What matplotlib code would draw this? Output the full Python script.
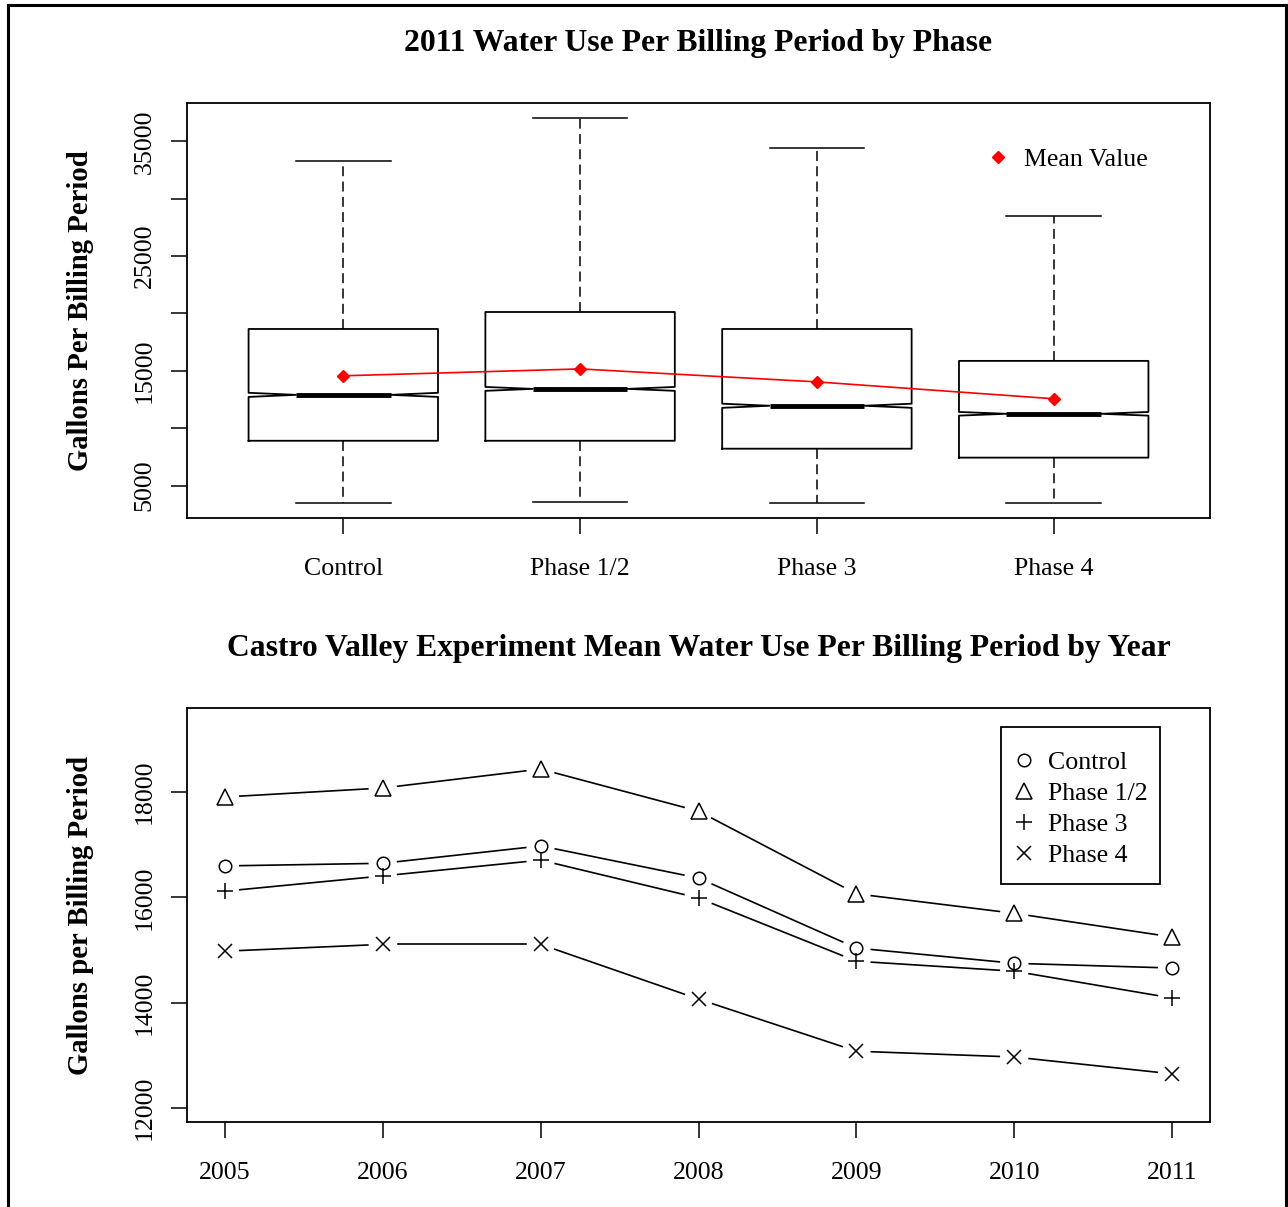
import matplotlib
matplotlib.use('Agg')
import matplotlib.pyplot as plt
from matplotlib.lines import Line2D
from matplotlib.patches import Rectangle
import numpy as np

plt.rcParams['font.family'] = ['Liberation Serif', 'DejaVu Serif']

# --- 2011 box plot summaries by phase ---
phases = ['Control', 'Phase 1/2', 'Phase 3', 'Phase 4']
whisker_low = [3520, 3540, 3530, 3520]
q1 = [8910, 8910, 8220, 7440]
medians = [12910, 13430, 11960, 11260]
q3 = [18650, 20130, 18650, 15870]
whisker_high = [33260, 37000, 34390, 28480]
notch_half = [180, 170, 180, 160]
means = [14570, 15170, 14040, 12570]

# --- yearly mean use per phase ---
years = [2005, 2006, 2007, 2008, 2009, 2010, 2011]
control = [16600, 16650, 16980, 16370, 15040, 14750, 14660]
phase12 = [17910, 18080, 18440, 17640, 16070, 15700, 15250]
phase3 = [16120, 16410, 16710, 15990, 14790, 14600, 14090]
phase4 = [14980, 15110, 15110, 14070, 13080, 12970, 12650]

W, H = 1288, 1207
fig = plt.figure(figsize=(W / 100, H / 100), dpi=100)
fig.patch.set_facecolor('white')

def px_axes(x0, y0, x1, y1):
    return fig.add_axes([x0 / W, 1 - y1 / H, (x1 - x0) / W, (y1 - y0) / H])

def style_axes(ax):
    for s in ax.spines.values():
        s.set_linewidth(1.3)
    ax.tick_params(direction='out', length=11.5, width=1.1, labelsize=18.6)
    ax.tick_params(axis='x', pad=17.5)
    ax.tick_params(axis='y', pad=11)
    for lab in ax.get_yticklabels():
        lab.set_rotation(90)
        lab.set_va('center')

# ---------------- top: notched box plots ----------------
ax1 = px_axes(187, 103, 1210, 518)
stats = []
for i, name in enumerate(phases):
    stats.append(dict(label=name, med=medians[i], q1=q1[i], q3=q3[i],
                      whislo=whisker_low[i], whishi=whisker_high[i],
                      cilo=medians[i] - notch_half[i], cihi=medians[i] + notch_half[i],
                      fliers=[]))
pos = np.arange(1, len(phases) + 1)
ax1.bxp(stats, positions=pos, widths=0.8, shownotches=True, showfliers=False,
        boxprops=dict(color='black', linewidth=1.3),
        medianprops=dict(color='black', linewidth=3.5, solid_capstyle='butt'),
        whiskerprops=dict(color='black', linewidth=1.1, linestyle=(0, (6.5, 3.5))),
        capprops=dict(color='black', linewidth=1.1))
ax1.plot(pos, means, color='red', linewidth=1.2, marker='D', markersize=6.5,
         markeredgecolor='red', markerfacecolor='red')
ax1.set_xlim(0.34, 4.66)
ax1.set_ylim(2180, 38340)
ax1.set_yticks([5000, 10000, 15000, 20000, 25000, 30000, 35000])
ax1.set_yticklabels(['5000', '', '15000', '', '25000', '', '35000'])
ax1.set_xticks(pos)
ax1.set_xticklabels(phases)
style_axes(ax1)
ax1.set_ylabel('Gallons Per Billing Period', fontsize=20.7, fontweight='bold', labelpad=28.5)
ax1.set_title('2011 Water Use Per Billing Period by Phase', fontsize=22.8,
              fontweight='bold', pad=37.5)
ax1.legend([Line2D([], [], linestyle='none', marker='D', color='red', markersize=6.5)],
           ['Mean Value'], loc='upper right', bbox_to_anchor=(0.962, 0.948),
           frameon=False, fontsize=18.6, handlelength=1.0, handletextpad=0.5)

# ---------------- bottom: yearly means ----------------
ax2 = px_axes(187, 708, 1210, 1122)
ax2.set_xlim(2004.76, 2011.24)
ax2.set_ylim(11735, 19600)
fig.canvas.draw()

series = [('Control', control, 'o', 9), ('Phase 1/2', phase12, '^', 12),
          ('Phase 3', phase3, '+', 12), ('Phase 4', phase4, 'x', 10)]
gap = 15.0  # pixels left open around each point
for name, vals, mk, ms in series:
    pts = ax2.transData.transform(np.column_stack([years, vals]))
    for (xa, ya), (xb, yb) in zip(pts[:-1], pts[1:]):
        d = np.hypot(xb - xa, yb - ya)
        ux, uy = (xb - xa) / d, (yb - ya) / d
        seg = np.array([[xa + ux * gap, ya + uy * gap], [xb - ux * gap, yb - uy * gap]])
        dseg = ax2.transData.inverted().transform(seg)
        ax2.plot(dseg[:, 0], dseg[:, 1], color='black', linewidth=1.2)
    ax2.plot(years, vals, linestyle='none', marker=mk, markersize=ms,
             markerfacecolor='none', markeredgecolor='black', markeredgewidth=1.1,
             label=name)

ax2.set_xticks(years)
ax2.set_yticks([12000, 14000, 16000, 18000])
style_axes(ax2)
ax2.set_ylabel('Gallons per Billing Period', fontsize=20.7, fontweight='bold', labelpad=28.5)
ax2.set_title('Castro Valley Experiment Mean Water Use Per Billing Period by Year',
              fontsize=22.8, fontweight='bold', pad=37.5)
ax2.legend(loc='upper left', bbox_to_anchor=(0.8084, 0.8961), fontsize=18.6,
           frameon=False, handlelength=0.78, handletextpad=0.54,
           labelspacing=0.30, borderpad=0, borderaxespad=0)
# legend box drawn separately for its uneven padding
ax2.add_patch(Rectangle((0.7957, 0.5749), 0.1554, 0.3792, transform=ax2.transAxes,
                        facecolor='none', edgecolor='black', linewidth=1.3, zorder=5))

# outer frame (left, top, right)
for xs, ys in [([8 / W, 8 / W], [0, 1 - 5 / H]),
               ([8 / W, 1286 / W], [1 - 5 / H, 1 - 5 / H]),
               ([1286 / W, 1286 / W], [1 - 5 / H, 0])]:
    fig.add_artist(Line2D(xs, ys, color='black', linewidth=2.2))

fig.savefig('out.png', dpi=100, facecolor='white')
